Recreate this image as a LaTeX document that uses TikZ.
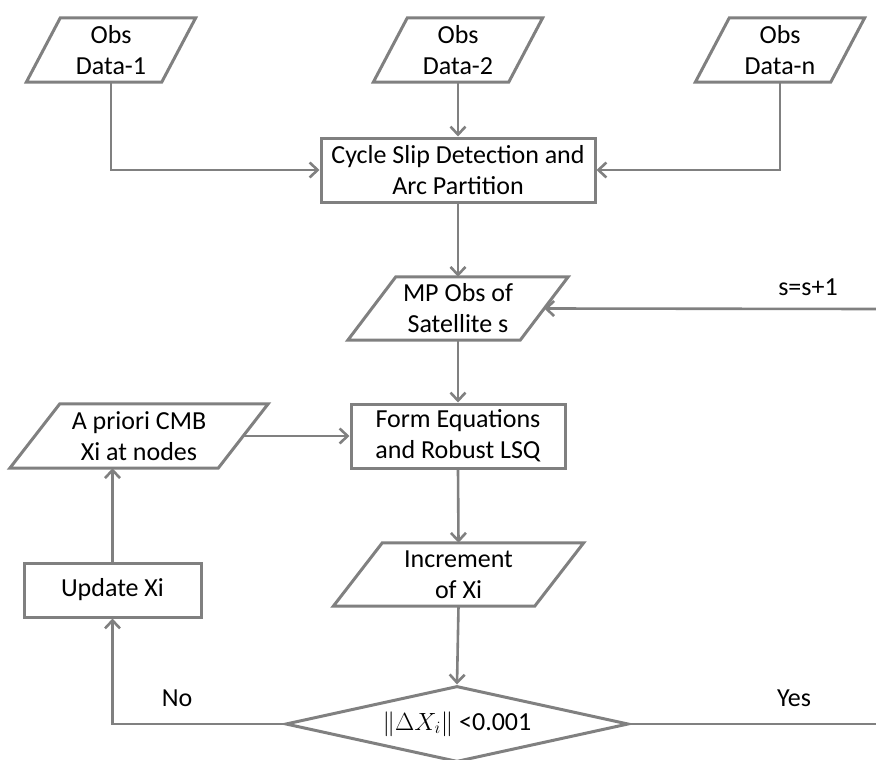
\documentclass[tikz,border=0pt]{standalone}
\usepackage{fontspec}
\setmainfont{Carlito}
\usetikzlibrary{arrows.meta,shapes.geometric}
\definecolor{lc}{RGB}{128,128,128}
\newcommand\parashape[2]{%
  \draw[shapeline] ([xshift=#2/2]#1.north west) -- ([xshift=#2/2]#1.north east)
    -- ([xshift=-#2/2]#1.south east) -- ([xshift=-#2/2]#1.south west) -- cycle;}
\begin{document}
\begin{tikzpicture}[x=1pt,y=-1pt,
  every node/.style={font=\fontsize{26}{31}\selectfont, text=black},
  shapeline/.style={draw=lc, line width=3pt, line join=miter},
  boxnode/.style={draw=lc, line width=3pt, rectangle, align=center, inner sep=0pt},
  paranode/.style={align=center, inner sep=0pt, rectangle},
  arr/.style={draw=lc, line width=2.6pt, -{Straight Barb[length=8pt,width=15pt,line width=2.6pt]}},
  plain/.style={draw=lc, line width=2.6pt}]
\useasboundingbox (0,0) rectangle (876,760);

% input data
\node[paranode, minimum width=135pt, minimum height=64pt] (d1) at (111,50) {Obs\\Data-1};
\parashape{d1}{34}
\node[paranode, minimum width=135pt, minimum height=64pt] (d2) at (458,50) {Obs\\Data-2};
\parashape{d2}{34}
\node[paranode, minimum width=135pt, minimum height=64pt] (dn) at (780,50) {Obs\\Data-n};
\parashape{dn}{34}

\node[boxnode, minimum width=274pt, minimum height=64pt] (cs) at (458,170) {Cycle Slip Detection and\\Arc Partition};

\node[paranode, minimum width=172pt, minimum height=63pt] (mp) at (458,308.5) {MP Obs of\\Satellite s};
\parashape{mp}{48}

\node[boxnode, minimum width=214pt, minimum height=64pt] (fe) at (458,436) {Form Equations\\and Robust LSQ};

\node[paranode, minimum width=208pt, minimum height=64pt] (ap) at (139,436) {A priori CMB\\Xi at nodes};
\parashape{ap}{50}

\node[paranode, minimum width=201pt, minimum height=63pt] (inc) at (458.5,574.5) {Increment\\of Xi};
\parashape{inc}{49}

\node[boxnode, minimum width=177pt, minimum height=54pt] (up) at (112.5,590) {Update Xi};

\node[shape=diamond, draw=lc, line width=3pt, aspect=4.5, inner sep=0pt,
      minimum width=343pt, minimum height=76pt] (dia) at (457,724) {\(\|\Delta X_i\|\) <0.001};

\coordinate (sR) at (876,309);
\coordinate (yR) at (876,724);

\node (ss) at (808,287) {s=s+1};
\node (no) at (177,698) {No};
\node (yes) at (794,698) {Yes};

% connectors
\draw[arr] (d1.south) |- (cs.west);
\draw[arr] (dn.south) |- (cs.east);
\draw[arr] (d2.south) -- (cs.north);
\draw[arr] (cs.south) -- (mp.north);
\draw[arr] (sR) -- (mp.east);
\draw[arr] (mp.south) -- (fe.north);
\draw[arr] (ap.east) -- (fe.west);
\draw[arr] (fe.south) -- (inc.north);
\draw[arr] (inc.south) -- (dia.north);
\draw[arr] (dia.west) -| (up.south);
\draw[arr] (up.north) -- (up.north |- ap.south);
\draw[plain] (dia.east) -- (yR);
\end{tikzpicture}
\end{document}
